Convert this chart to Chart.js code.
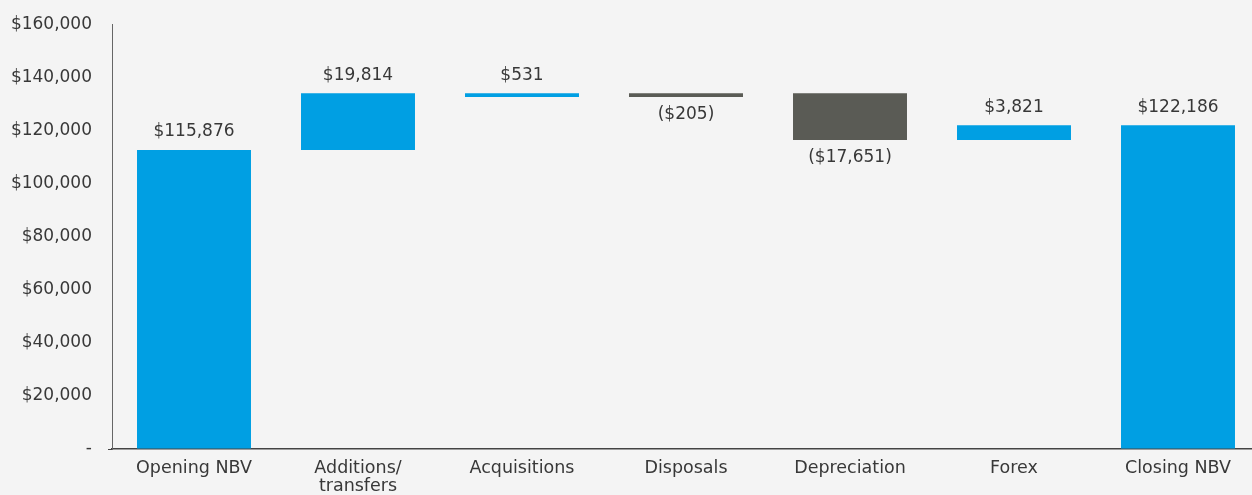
<!DOCTYPE html>
<html>
<head>
<meta charset="utf-8">
<script src="https://cdn.jsdelivr.net/npm/chart.js@4"></script>
<style>
  html, body { margin: 0; padding: 0; background: #f4f4f4; overflow: hidden; }
  #wrap { width: 1260px; height: 495px; position: relative; }
</style>
</head>
<body>
<div id="wrap"><canvas id="c"></canvas></div>
<script>
const categories = [['Opening NBV'], ['Additions/', 'transfers'], ['Acquisitions'], ['Disposals'], ['Depreciation'], ['Forex'], ['Closing NBV']];
const barStart = [0, 112700, 132700, 132700, 116500, 116500, 0];
const barEnd = [112700, 134100, 134100, 134100, 134100, 122000, 122000];
const valueLabels = ['$115,876', '$19,814', '$531', '($205)', '($17,651)', '$3,821', '$122,186'];
const yTicks = [0, 20000, 40000, 60000, 80000, 100000, 120000, 140000, 160000];

const BLUE = '#009fe3';
const GREY = '#5a5b55';
const TEXT = '#383838';
const FONT = "'DejaVu Sans', sans-serif";

const isDecrease = valueLabels.map(l => l.startsWith('('));

const labelPlugin = {
  id: 'valueLabels',
  afterDatasetsDraw(chart) {
    const ctx = chart.ctx;
    const meta = chart.getDatasetMeta(0);
    ctx.save();
    ctx.font = '17px ' + FONT;
    ctx.fillStyle = TEXT;
    ctx.textAlign = 'center';
    ctx.textBaseline = 'middle';
    meta.data.forEach((bar, i) => {
      const top = Math.min(bar.y, bar.base);
      const bottom = Math.max(bar.y, bar.base);
      const y = isDecrease[i] ? bottom + 18 : top - 18;
      ctx.fillText(valueLabels[i], bar.x, y);
    });
    ctx.restore();
  }
};

new Chart(document.getElementById('c'), {
  type: 'bar',
  data: {
    labels: categories,
    datasets: [{
      data: barStart.map((s, i) => [s, barEnd[i]]),
      backgroundColor: isDecrease.map(d => d ? GREY : BLUE),
      borderWidth: 0,
      barPercentage: 0.695,
      categoryPercentage: 1.0
    }]
  },
  options: {
    responsive: true,
    maintainAspectRatio: false,
    animation: false,
    layout: { padding: { top: 12, right: 0, left: 0, bottom: 0 } },
    plugins: { legend: { display: false }, tooltip: { enabled: false } },
    scales: {
      x: {
        grid: { display: false, drawTicks: false },
        border: { display: true, color: '#444444', width: 1.5 },
        ticks: { color: TEXT, font: { family: FONT, size: 17.5, lineHeight: 1.05 }, padding: 10, maxRotation: 0, autoSkip: false },
        afterFit(scale) { scale.height = 46; }
      },
      y: {
        min: 0,
        max: 160000,
        afterBuildTicks(scale) { scale.ticks = yTicks.map(v => ({ value: v })); },
        grid: {
          drawOnChartArea: false,
          tickLength: 4,
          color: ctx => (ctx.tick && ctx.tick.value === 0) ? '#444444' : 'rgba(0,0,0,0)'
        },
        border: { display: true, color: '#666666', width: 1 },
        ticks: {
          color: TEXT,
          font: { family: FONT, size: 17, lineHeight: 1.0 },
          padding: 16,
          callback: v => v === 0 ? '-' : '$' + v.toLocaleString('en-US')
        },
        afterFit(scale) { scale.width = 112; }
      }
    }
  },
  plugins: [labelPlugin]
});
</script>
</body>
</html>
